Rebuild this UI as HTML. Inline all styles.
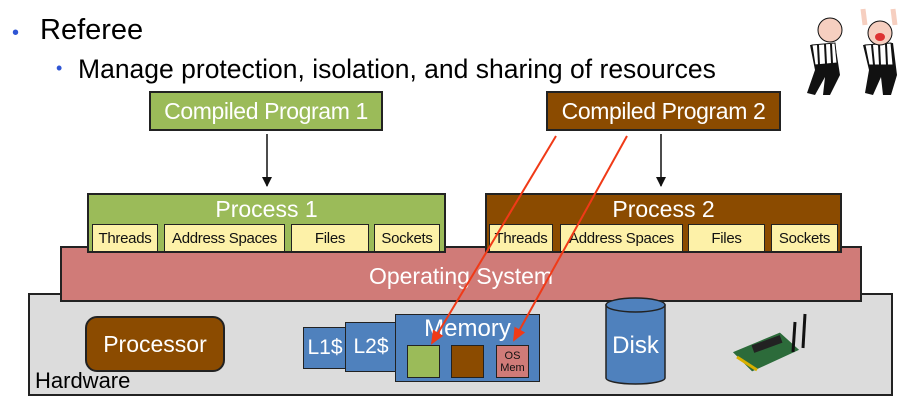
<!DOCTYPE html>
<html><head><meta charset="utf-8"><style>
body{margin:0;width:915px;height:401px;background:#fff;position:relative;overflow:hidden;font-family:"Liberation Sans",sans-serif}
.a{position:absolute;box-sizing:border-box}
.c{display:flex;align-items:center;justify-content:center;text-align:center;white-space:nowrap}
.y{background:#fdf1a8;border:1.5px solid #222;font-size:15px;color:#111;height:28px;top:224px;letter-spacing:-0.3px}
</style></head><body>
<div class="a" style="left:12px;top:22px;font-size:20px;color:#2f55d4">•</div>
<div class="a" style="left:40px;top:14px;font-size:29px;color:#000">Referee</div>
<div class="a" style="left:56px;top:58px;font-size:18px;color:#2f55d4">•</div>
<div class="a" style="left:78px;top:54px;font-size:26.5px;color:#000;white-space:nowrap">Manage protection, isolation, and sharing of resources</div>

<svg class="a" style="left:785px;top:5px" width="125" height="92" viewBox="0 0 125 92">
<g fill="#111"><path d="M25 40 L50 38 L55 70 L45 90 L38 90 L40 72 L30 90 L22 88 L30 65Z"/><path d="M78 40 L108 38 L112 70 L106 90 L98 90 L96 72 L88 90 L80 88 L84 65Z"/></g>
<g fill="#fff" stroke="#111" stroke-width="1"><path d="M27 40 L50 38 L52 58 L30 60Z"/><path d="M80 40 L106 38 L108 60 L84 60Z"/></g>
<g stroke="#111" stroke-width="2"><line x1="33" y1="40" x2="34" y2="60"/><line x1="40" y1="39" x2="41" y2="59"/><line x1="46" y1="39" x2="47" y2="58"/><line x1="87" y1="40" x2="89" y2="60"/><line x1="94" y1="39" x2="95" y2="60"/><line x1="101" y1="39" x2="102" y2="60"/></g>
<circle cx="45" cy="25" r="12" fill="#f6cfc0" stroke="#111"/><circle cx="95" cy="28" r="12" fill="#f6cfc0" stroke="#111"/>
<ellipse cx="95" cy="32" rx="5" ry="4" fill="#d33"/>
<path d="M80 20 L78 4 M110 20 L108 4" stroke="#f6cfc0" stroke-width="5"/>
</svg>

<div class="a c" style="left:149px;top:91px;width:234px;height:40px;background:#9bbb59;border:2px solid #222;color:#fff;font-size:23px;letter-spacing:-0.4px">Compiled Program 1</div>
<div class="a c" style="left:546px;top:91px;width:235px;height:40px;background:#8b4b00;border:2px solid #222;color:#fff;font-size:23px;letter-spacing:-0.4px">Compiled Program 2</div>

<div class="a" style="left:28px;top:293px;width:865px;height:103px;background:#dcdcdc;border:2px solid #222"></div>
<div class="a" style="left:35px;top:368px;font-size:22px;color:#000">Hardware</div>

<div class="a c" style="left:60px;top:246px;width:802px;height:56px;background:#d07b78;border:2px solid #222;color:#fff;font-size:23px;padding-top:4px">Operating System</div>

<div class="a" style="left:87px;top:193px;width:359px;height:60px;background:#9bbb59;border:2px solid #222"></div>
<div class="a c" style="left:87px;top:196px;width:359px;height:26px;color:#fff;font-size:23px">Process 1</div>
<div class="a" style="left:485px;top:193px;width:357px;height:60px;background:#8b4b00;border:2px solid #222"></div>
<div class="a c" style="left:485px;top:196px;width:357px;height:26px;color:#fff;font-size:23px">Process 2</div>

<div class="a c y" style="left:92px;width:66px">Threads</div>
<div class="a c y" style="left:164px;width:121px">Address Spaces</div>
<div class="a c y" style="left:291px;width:78px">Files</div>
<div class="a c y" style="left:374px;width:66px">Sockets</div>
<div class="a c y" style="left:489px;width:64px">Threads</div>
<div class="a c y" style="left:560px;width:123px">Address Spaces</div>
<div class="a c y" style="left:688px;width:77px">Files</div>
<div class="a c y" style="left:771px;width:67px">Sockets</div>

<div class="a c" style="left:85px;top:316px;width:140px;height:56px;background:#8b4b00;border:2px solid #222;border-radius:12px;color:#fff;font-size:23px">Processor</div>
<div class="a c" style="left:303px;top:327px;width:44px;height:42px;background:#4f81bd;border:1.5px solid #222;color:#fff;font-size:21px">L1$</div>
<div class="a c" style="left:345px;top:322px;width:52px;height:50px;background:#4f81bd;border:1.5px solid #222;color:#fff;font-size:21px">L2$</div>
<div class="a" style="left:395px;top:314px;width:145px;height:68px;background:#4f81bd;border:1.5px solid #222"></div>
<div class="a c" style="left:395px;top:316px;width:145px;height:26px;color:#fff;font-size:24px">Memory</div>
<div class="a" style="left:407px;top:345px;width:33px;height:33px;background:#9bbb59;border:1.5px solid #222"></div>
<div class="a" style="left:451px;top:345px;width:33px;height:33px;background:#8b4b00;border:1.5px solid #222"></div>
<div class="a c" style="left:496px;top:345px;width:33px;height:33px;background:#d07b78;border:1.5px solid #222;font-size:11px;line-height:12px;color:#111">OS<br>Mem</div>

<svg class="a" style="left:0;top:0" width="915" height="401">
<defs><marker id="k" markerWidth="10" markerHeight="10" refX="9" refY="5" orient="auto" markerUnits="userSpaceOnUse"><path d="M0 0 L10 5 L0 10Z" fill="#111"/></marker>
<marker id="r" markerWidth="14" markerHeight="12" refX="12" refY="6" orient="auto" markerUnits="userSpaceOnUse"><path d="M0 0 L14 6 L0 12Z" fill="#f03a17"/></marker></defs>
<line x1="267" y1="134" x2="267" y2="186" stroke="#111" stroke-width="1.5" marker-end="url(#k)"/>
<line x1="661" y1="134" x2="661" y2="186" stroke="#111" stroke-width="1.5" marker-end="url(#k)"/>
<path d="M606 305 L606 378 A29.5 6 0 0 0 665 378 L665 305Z" fill="#4f81bd" stroke="#222" stroke-width="1.5"/>
<ellipse cx="635.5" cy="305" rx="29.5" ry="7" fill="#4f81bd" stroke="#222" stroke-width="1.5"/>
<text x="635.5" y="353" fill="#fff" font-size="24" text-anchor="middle" font-family="Liberation Sans">Disk</text>
<g><polygon points="732,352 780,332 800,350 752,372" fill="#2c6b3a" stroke="#ddd"/><rect x="752" y="340" width="30" height="8" fill="#222" transform="rotate(-20 767 344)"/><line x1="737" y1="357" x2="757" y2="370" stroke="#d9b000" stroke-width="3"/><line x1="793" y1="352" x2="795" y2="322" stroke="#111" stroke-width="3"/><line x1="803" y1="348" x2="805" y2="314" stroke="#111" stroke-width="3"/></g>
<line x1="556" y1="136" x2="432" y2="343" stroke="#f03a17" stroke-width="2" marker-end="url(#r)"/>
<line x1="627" y1="136" x2="514" y2="340" stroke="#f03a17" stroke-width="2" marker-end="url(#r)"/>
</svg>
</body></html>
